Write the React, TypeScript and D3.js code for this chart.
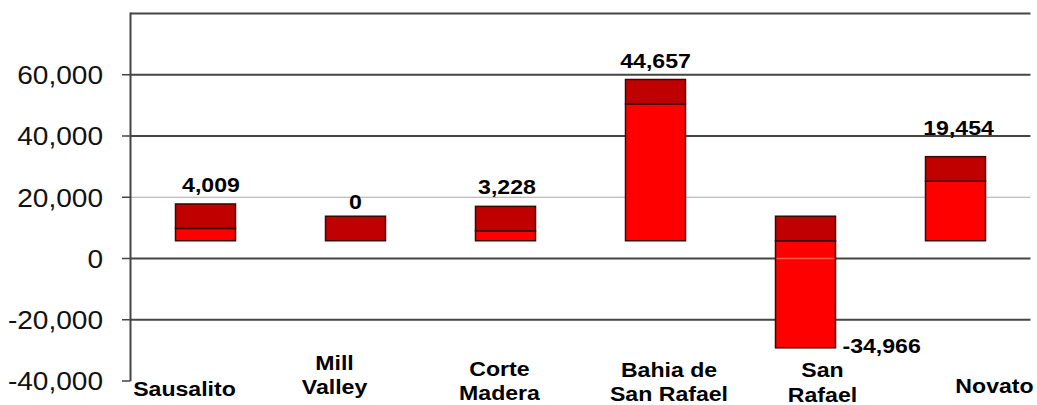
import React from "react";
import * as d3 from "d3";

// ---- data ----
const categories = ["Sausalito", "Mill Valley", "Corte Madera", "Bahia de San Rafael", "San Rafael", "Novato"];
const categoryLines = [["Sausalito"], ["Mill", "Valley"], ["Corte", "Madera"], ["Bahia de", "San Rafael"], ["San", "Rafael"], ["Novato"]];
const changeValues = [4009, 0, 3228, 44657, -34966, 19454];
const baseValues = [5800, 5800, 5800, 5800, 5800, 5800];
const capValues = [8000, 8000, 8000, 8000, 8000, 8000];
const tickValues = [-40000, -20000, 0, 20000, 40000, 60000];
const gridValues = [-20000, 0, 20000, 40000, 60000, 80000];

// ---- layout (not data) ----
const W = 1037;
const H = 405;
const labelDx = [-21, -21, -6, 13.5, 17, 39];
const labelLastBaseline = [396, 394, 400, 401, 401.5, 393];
const valueLabelDx = [5.5, 0, 1.5, 0, 7, 3];
const valueLabelGap = [12, 7, 12.5, 11.5, 5, 22];
const SX = 1.1;

const fmtRaw = d3.format(",");
const fmt = (v: number) => fmtRaw(v).replace("\u2212", "-");

export default function App() {
  const y = d3.scaleLinear().domain([-40000, 80000]).range([381, 13.5]);
  const x = d3.scaleBand<string>().domain(categories).range([130.5, 1030.5]).paddingInner(0).paddingOuter(0);
  const barW = x.bandwidth() * 0.4;

  return (
    <svg width={W} height={H} style={{ position: "absolute", left: 0, top: 0, background: "#fff" }}
      fontFamily="'Liberation Sans', Arial, sans-serif">
      {/* gridlines */}
      {gridValues.map((v) => (
        <line key={"g" + v} x1={130.5} x2={1030.5} y1={y(v)} y2={y(v)}
          stroke={v === 20000 ? "#a8a8a8" : "#454545"} strokeWidth={v === 20000 ? 1.2 : 2} />
      ))}
      {/* left axis */}
      <line x1={130.5} x2={130.5} y1={y(80000) - 1} y2={y(-40000)} stroke="#454545" strokeWidth={2} />
      {tickValues.map((v) => (
        <g key={"t" + v}>
          <line x1={122} x2={130.5} y1={y(v)} y2={y(v)} stroke="#454545" strokeWidth={1.5} />
          <text transform={`translate(103,${y(v) + 9.3}) scale(${SX},1)`} textAnchor="end" fontSize={25.5} fill="#111">
            {fmt(v)}
          </text>
        </g>
      ))}
      {/* bars */}
      {categories.map((c, i) => {
        const cx = (x(c) as number) + x.bandwidth() / 2;
        const x0 = cx - barW / 2;
        const base = baseValues[i];
        const ch = changeValues[i];
        const brightTop = ch >= 0 ? base + ch : base;
        const brightBot = ch >= 0 ? base : base + ch;
        const capBot = ch >= 0 ? base + ch : base;
        const capTop = capBot + capValues[i];
        return (
          <g key={c}>
            {ch !== 0 && (
              <rect x={x0} y={y(brightTop)} width={barW} height={y(brightBot) - y(brightTop)}
                fill="#ff0000" stroke="#3a0a0a" strokeWidth={1.5} />
            )}
            <rect x={x0} y={y(capTop)} width={barW} height={y(capBot) - y(capTop)}
              fill="#c00000" stroke="#3a0a0a" strokeWidth={1.5} />
            {ch < 0 && (
              <line x1={x0 + 1} x2={x0 + barW - 1} y1={y(0)} y2={y(0)} stroke="#ffffff" strokeOpacity={0.35} strokeWidth={1.5} />
            )}
          </g>
        );
      })}
      {/* value labels */}
      {categories.map((c, i) => {
        const cx = (x(c) as number) + x.bandwidth() / 2;
        const ch = changeValues[i];
        const base = baseValues[i];
        if (ch >= 0) {
          const top = y(base + ch + capValues[i]);
          return (
            <text key={"v" + c} transform={`translate(${cx + valueLabelDx[i]},${top - valueLabelGap[i]}) scale(${SX},1)`}
              textAnchor="middle" fontSize={21} fontWeight="bold" fill="#000">
              {fmt(ch)}
            </text>
          );
        }
        const bottom = y(base + ch);
        return (
          <text key={"v" + c} transform={`translate(${cx + barW / 2 + valueLabelDx[i]},${bottom + valueLabelGap[i]}) scale(${SX},1)`}
            textAnchor="start" fontSize={21} fontWeight="bold" fill="#000">
            {fmt(ch)}
          </text>
        );
      })}
      {/* category labels */}
      {categories.map((c, i) => {
        const cx = (x(c) as number) + x.bandwidth() / 2 + labelDx[i];
        const lines = categoryLines[i];
        return (
          <g key={"c" + c}>
            {lines.map((ln, j) => (
              <text key={ln} transform={`translate(${cx},${labelLastBaseline[i] - (lines.length - 1 - j) * 24.5}) scale(${SX},1)`}
                textAnchor="middle" fontSize={21} fontWeight="bold" fill="#000">
                {ln}
              </text>
            ))}
          </g>
        );
      })}
    </svg>
  );
}
